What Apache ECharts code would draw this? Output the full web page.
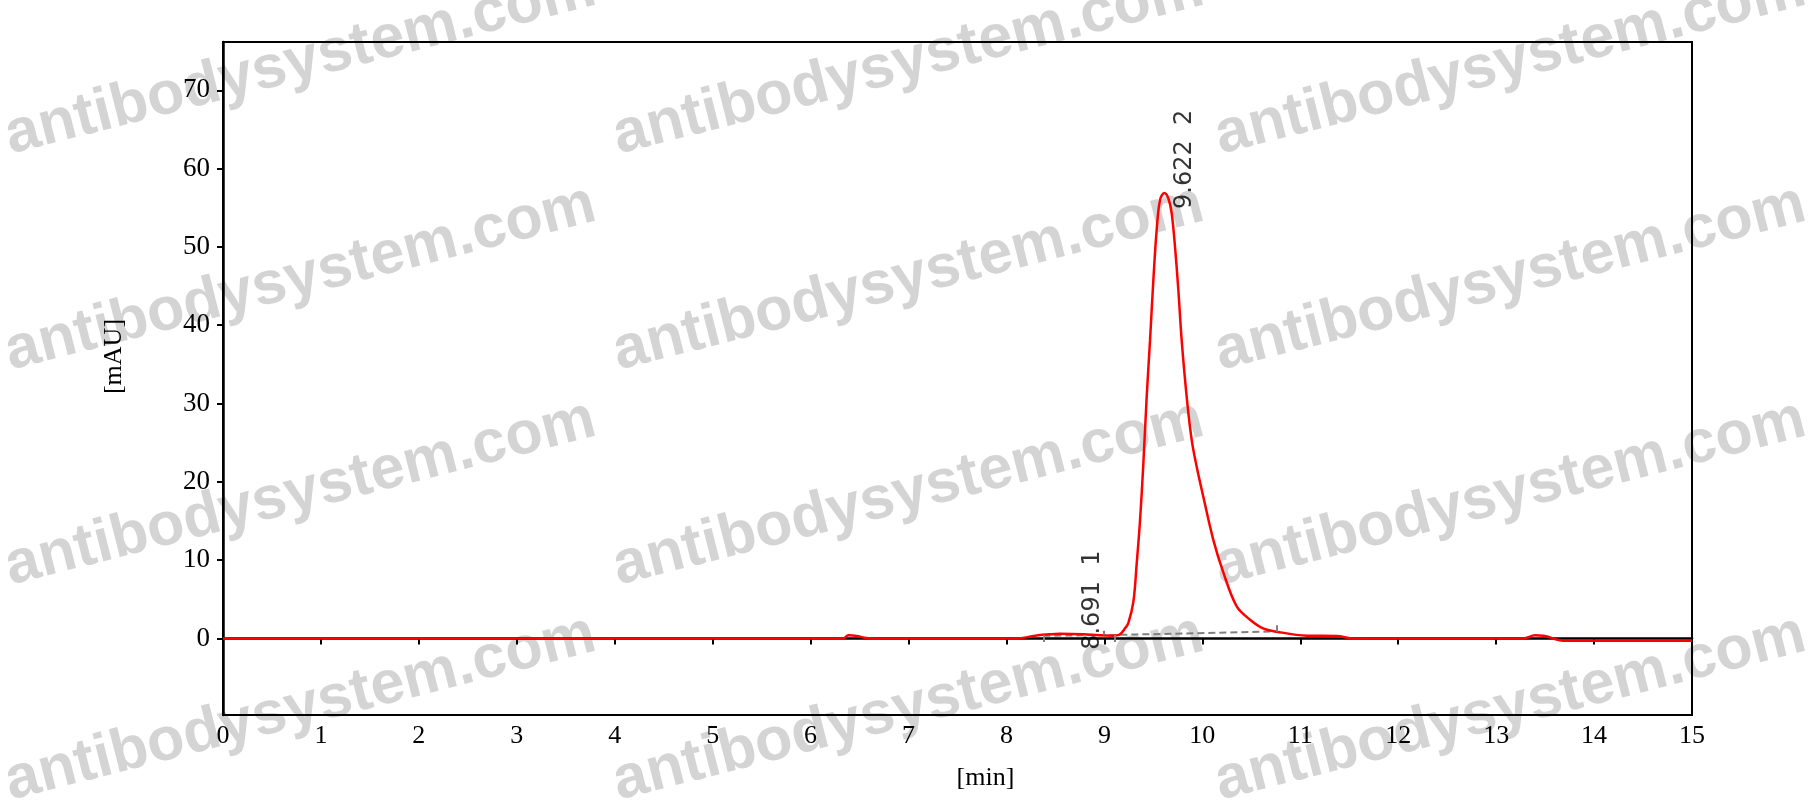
<!DOCTYPE html>
<html>
<head>
<meta charset="utf-8">
<script src="https://cdn.jsdelivr.net/npm/echarts@6/dist/echarts.min.js"></script>
<style>
html,body{margin:0;padding:0;background:#fff;}
#chart{width:1812px;height:805px;}
</style>
</head>
<body>
<div id="chart"></div>
<script>
// Chromatogram signal (time in min, absorbance in mAU)
const times = [0, 6.30, 6.334, 6.385, 6.471, 6.55, 6.624, 8.105, 8.275, 8.40, 8.547, 8.785, 8.95, 9.09, 9.15, 9.211, 9.245, 9.296, 9.33, 9.364, 9.398, 9.432, 9.466, 9.50, 9.534, 9.568, 9.612, 9.653, 9.687, 9.721, 9.755, 9.789, 9.84, 9.892, 9.943, 10.01, 10.112, 10.215, 10.351, 10.487, 10.62, 10.76, 11.066, 11.372, 11.542, 13.278, 13.397, 13.482, 13.687, 15];
const signal = [0, 0, 0, 0.4, 0.33, 0.1, 0, 0, 0.32, 0.5, 0.62, 0.55, 0.4, 0.36, 0.45, 1.3, 2.0, 4.7, 9.6, 15.1, 22.4, 30.9, 38.1, 45.8, 52.2, 56.0, 56.9, 56.2, 54.3, 50.0, 44.5, 38.1, 30.9, 25.3, 21.9, 18.1, 12.6, 8.4, 4.1, 2.4, 1.3, 0.87, 0.36, 0.32, 0.0, 0, 0.4, 0.35, -0.28, -0.28];

// Integration baseline
const baselineTimes = [8.377, 9.108, 10.76];
const baselineValues = [0.35, 0.45, 0.9];

// Integration tick marks
const markTimes = [8.377, 8.996, 9.108, 10.76];
const markFrom = [0.45, 1.0, 0.45, 1.7];
const markTo = [-0.45, 0.45, -0.45, 0.87];

// Peaks
const peakTimes = [8.691, 9.622];
const peakHeights = [0.6, 56.9];
const peakIds = ['1', '2'];

// Axis ticks
const xTicks = [0,1,2,3,4,5,6,7,8,9,10,11,12,13,14,15];
const yTicks = [0,10,20,30,40,50,60,70];

// Watermark grid
const wmText = 'antibodysystem.com';
const wmCols = [14, 622, 1224];
const wmRows = [154, 370, 585, 800];

const chart = echarts.init(document.getElementById('chart'));

const wmGraphics = [];
wmCols.forEach(function (cx) {
  wmRows.forEach(function (ry) {
    wmGraphics.push({
      type: 'text',
      x: cx,
      y: ry + 13,
      rotation: 14.3 * Math.PI / 180,
      z: -10,
      silent: true,
      style: {
        text: wmText,
        font: 'bold 61px "Liberation Sans", Arial, sans-serif',
        fill: 'rgba(160,160,160,0.45)',
        align: 'left',
        verticalAlign: 'bottom'
      }
    });
  });
});

const option = {
  backgroundColor: '#fff',
  animation: false,
  graphic: wmGraphics,
  grid: {
    left: 223, right: 120, top: 42, bottom: 90,
    show: true, borderColor: '#000', borderWidth: 2, backgroundColor: 'transparent'
  },
  xAxis: {
    type: 'value', min: 0, max: 15, interval: 1,
    name: '[min]', nameLocation: 'middle', nameGap: 50,
    nameTextStyle: { fontFamily: '"Liberation Serif", serif', fontSize: 26, color: '#000', padding: [0, 0, 0, 56] },
    axisLine: { show: true, lineStyle: { color: '#000', width: 2.5 } },
    axisTick: { show: true, inside: false, length: 6, lineStyle: { color: '#000', width: 2 } },
    axisLabel: { fontFamily: '"Liberation Serif", serif', fontSize: 26, color: '#000', margin: 8,
      formatter: function (v) { return xTicks.indexOf(v) >= 0 ? String(v) : ''; } },
    splitLine: { show: false }
  },
  yAxis: {
    type: 'value', min: -9.77, max: 76.17,
    name: '[mAU]', nameLocation: 'middle', nameGap: 96,
    nameTextStyle: { fontFamily: '"Liberation Serif", serif', fontSize: 26, color: '#000', padding: [0, 0, 0, 44] },
    axisLine: { show: true, lineStyle: { color: '#000', width: 2.5 } },
    axisTick: { show: true, inside: false, length: 6, customValues: yTicks, lineStyle: { color: '#000', width: 2 } },
    axisLabel: { fontFamily: '"Liberation Serif", serif', fontSize: 27, color: '#000', margin: 13, customValues: yTicks },
    splitLine: { show: false }
  },
  series: [
    {
      type: 'line',
      name: 'baseline',
      data: baselineTimes.map(function (t, i) { return [t, baselineValues[i]]; }),
      symbol: 'none',
      lineStyle: { color: '#808080', width: 2, type: [7, 4] },
      z: 3,
      markLine: {
        silent: true,
        symbol: ['none', 'none'],
        label: { show: false },
        lineStyle: { color: '#808080', width: 2, type: 'solid' },
        data: markTimes.map(function (t, i) {
          return [{ coord: [t, markFrom[i]] }, { coord: [t, markTo[i]] }];
        })
      }
    },
    {
      type: 'line',
      name: 'signal',
      data: times.map(function (t, i) { return [t, signal[i]]; }),
      symbol: 'none',
      smooth: 0.35,
      lineStyle: { color: '#ff0000', width: 2.5 },
      z: 4
    },
    {
      type: 'scatter',
      name: 'peaks',
      data: peakTimes.map(function (t, i) { return [t, peakHeights[i]]; }),
      symbolSize: 0,
      z: 5,
      label: {
        show: true,
        position: [7, 16],
        rotate: 90,
        align: 'left',
        verticalAlign: 'top',
        fontFamily: '"DejaVu Sans", sans-serif',
        fontSize: 24,
        color: '#000',
        formatter: function (p) {
          return peakTimes[p.dataIndex].toFixed(3) + '  ' + peakIds[p.dataIndex];
        }
      }
    }
  ]
};

chart.setOption(option);
</script>
</body>
</html>
